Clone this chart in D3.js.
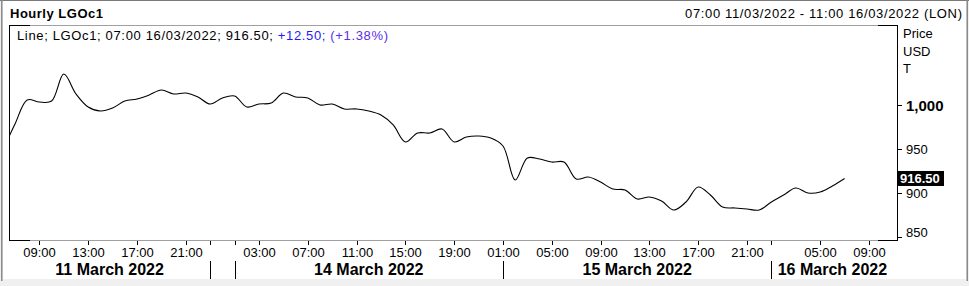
<!DOCTYPE html>
<html>
<head>
<meta charset="utf-8">
<script src="https://cdnjs.cloudflare.com/ajax/libs/d3/7.8.5/d3.min.js"></script>
<style>
body { margin:0; background:#f0f0f0; }
svg { display:block; font-family:"Liberation Sans", Arial, sans-serif; }
</style>
</head>
<body>
<script>
// data: hourly closes, slot = trading hour index from 07:00 11/03/2022 (slot -1 is clipped)
var startSlot = -1;
var prices = [949, 978.4, 1005.7, 1003.4, 1004.5, 1035.2, 1012.5, 997.7, 993.2, 996.6,
    1004.5, 1006.8, 1011.4, 1017, 1012.5, 1013.6, 1009.1, 1001.1, 1008, 1010.2,
    997.7, 1001.1, 1002.3, 1013.6, 1009.1, 1008, 1000, 1001.1, 995.5, 995.5,
    993.2, 988.6, 977.3, 958, 968.2, 968.2, 972.7, 958, 963.6, 964.8,
    962.5, 953.4, 914.8, 939.8, 938.6, 935.2, 935.2, 915.9, 918.2, 912.5,
    904.5, 903.4, 893.2, 895.5, 890.9, 880.7, 889.8, 906.8, 897.7, 884.1,
    883, 881.8, 880.7, 889.8, 897.7, 905.7, 900, 901.1, 908, 916.5];
var lastPrice = 916.50;

// x axis: hour ticks and day bands (in slots)
var hourTicks = [2, 6, 10, 14, 16, 18, 20, 24, 28, 32, 36, 40, 44, 48, 52, 56, 60, 62, 66, 70];
var hourLabels = ["09:00", "13:00", "17:00", "21:00", "", "", "03:00", "07:00", "11:00", "15:00",
    "19:00", "01:00", "05:00", "09:00", "13:00", "17:00", "21:00", "", "05:00", "09:00"];
var dayLabels = ["11 March 2022", "", "14 March 2022", "15 March 2022", "16 March 2022"];
var dayStart = [0, 16, 18, 40, 62];
var dayEnd = [16, 18, 40, 62, 72];

// y axis
var yTicks = [1000, 950, 900, 850];
var yLabels = ["1,000", "950", "900", "850"];
var unitLabels = ["Price", "USD", "T"];

var W = 969, H = 286;
var plot = {left: 9, right: 897, top: 25, bottom: 240};

var svg = d3.select("body").append("svg")
    .attr("width", W)
    .attr("height", H);

// panel
svg.append("rect").attr("x", 0).attr("y", 0).attr("width", W).attr("height", H).attr("fill", "#f0f0f0");
svg.append("rect").attr("x", 3).attr("y", 1).attr("width", W - 6).attr("height", 278).attr("fill", "#fff");
svg.append("rect").attr("x", 0).attr("y", 0).attr("width", W).attr("height", 1).attr("fill", "#7a7a7a");
svg.append("rect").attr("x", 1).attr("y", 0).attr("width", 1.5).attr("height", 281).attr("fill", "#8a8a8a");
svg.append("rect").attr("x", W - 2.5).attr("y", 0).attr("width", 1.5).attr("height", 281).attr("fill", "#8a8a8a");

// scales
var x = d3.scaleLinear().domain([0, 72]).range([15, 893.4]);
var y = d3.scaleLinear().domain([850, 1000]).range([237, 105]);

// header
svg.append("text").attr("x", 10).attr("y", 18)
    .style("font-size", "13px").style("font-weight", "bold")
    .attr("textLength", 93).attr("lengthAdjust", "spacing")
    .text("Hourly LGOc1");
svg.append("text").attr("x", 962).attr("y", 18)
    .attr("text-anchor", "end")
    .style("font-size", "13px")
    .attr("textLength", 277).attr("lengthAdjust", "spacing")
    .text("07:00 11/03/2022 - 11:00 16/03/2022 (LON)");

// plot frame
var frame = svg.append("g");
frame.append("line").attr("x1", plot.left).attr("x2", plot.right).attr("y1", plot.top + 0.5).attr("y2", plot.top + 0.5)
    .attr("stroke", "#a0a0a0");
frame.append("line").attr("x1", plot.left).attr("x2", plot.right).attr("y1", plot.bottom + 0.5).attr("y2", plot.bottom + 0.5)
    .attr("stroke", "#a0a0a0");
[[plot.left, plot.left + 21], [plot.right - 19, plot.right]].forEach(function(s){
    [plot.top, plot.bottom].forEach(function(yy){
        frame.append("line").attr("x1", s[0]).attr("x2", s[1]).attr("y1", yy + 0.5).attr("y2", yy + 0.5)
            .attr("stroke", "#000");
    });
});
frame.append("line").attr("x1", plot.left + 0.5).attr("x2", plot.left + 0.5).attr("y1", plot.top).attr("y2", plot.bottom + 1)
    .attr("stroke", "#000");
frame.append("line").attr("x1", plot.right + 0.5).attr("x2", plot.right + 0.5).attr("y1", plot.top).attr("y2", plot.bottom + 1)
    .attr("stroke", "#000");

// legend
var legend = svg.append("text").attr("x", 17).attr("y", 40)
    .style("font-size", "13px")
    .attr("textLength", 371).attr("lengthAdjust", "spacing");
legend.append("tspan").attr("fill", "#000").text("Line; LGOc1; 07:00 16/03/2022; 916.50; ");
legend.append("tspan").attr("fill", "#1c1cf0").text("+12.50; ");
legend.append("tspan").attr("fill", "#5a2ee6").text("(+1.38%)");

// line
svg.append("clipPath").attr("id", "clip")
    .append("rect").attr("x", plot.left + 1).attr("y", plot.top + 1)
    .attr("width", plot.right - plot.left - 1).attr("height", plot.bottom - plot.top - 1);

var line = d3.line()
    .x(function(d, i){ return x(startSlot + i); })
    .y(function(d){ return y(d); })
    .curve(d3.curveCatmullRom.alpha(0.5));

svg.append("path")
    .datum(prices)
    .attr("clip-path", "url(#clip)")
    .attr("fill", "none")
    .attr("stroke", "#000")
    .attr("stroke-width", 1.1)
    .attr("d", line);

// y axis
var yAxis = svg.append("g").style("font-size", "13px");
unitLabels.forEach(function(t, i){
    yAxis.append("text").attr("x", 903).attr("y", 38 + i * 17.5).text(t);
});
yTicks.forEach(function(v, i){
    var yy = Math.round(y(v)) + 0.5;
    yAxis.append("line").attr("x1", plot.right).attr("x2", plot.right + 5).attr("y1", yy).attr("y2", yy)
        .attr("stroke", "#000");
    yAxis.append("text")
        .attr("x", 906)
        .attr("y", i == yTicks.length - 1 ? yy - 5 : yy)
        .attr("dy", "0.36em")
        .style("font-size", i == 0 ? "15px" : "13px")
        .style("font-weight", i == 0 ? "bold" : "normal")
        .text(yLabels[i]);
});

// last price box
var ly = y(lastPrice);
svg.append("rect").attr("x", 898).attr("y", ly - 7.5).attr("width", 46).attr("height", 15).attr("fill", "#000");
svg.append("text").attr("x", 900).attr("y", ly).attr("dy", "0.36em")
    .attr("fill", "#fff").style("font-size", "13px").style("font-weight", "bold")
    .text(d3.format(".2f")(lastPrice));

// x axis
var xAxis = svg.append("g");
hourTicks.forEach(function(s, i){
    var xx = Math.round(x(s)) + 0.5;
    xAxis.append("line").attr("x1", xx).attr("x2", xx).attr("y1", 241).attr("y2", 245)
        .attr("stroke", "#000");
    if (hourLabels[i] != "") {
        xAxis.append("text").attr("x", xx).attr("y", 257)
            .attr("text-anchor", "middle").style("font-size", "13px")
            .text(hourLabels[i]);
    }
});
dayLabels.forEach(function(t, i){
    if (i > 0) {
        var xx = Math.round(x(dayStart[i])) + 0.5;
        xAxis.append("line").attr("x1", xx).attr("x2", xx).attr("y1", 261).attr("y2", 279)
            .attr("stroke", "#000");
    }
    if (t != "") {
        var lo = i == 0 ? plot.left : x(dayStart[i]);
        xAxis.append("text").attr("x", (lo + x(dayEnd[i])) / 2).attr("y", 275)
            .attr("text-anchor", "middle")
            .style("font-size", "16px").style("font-weight", "bold")
            .text(t);
    }
});
</script>
</body>
</html>
